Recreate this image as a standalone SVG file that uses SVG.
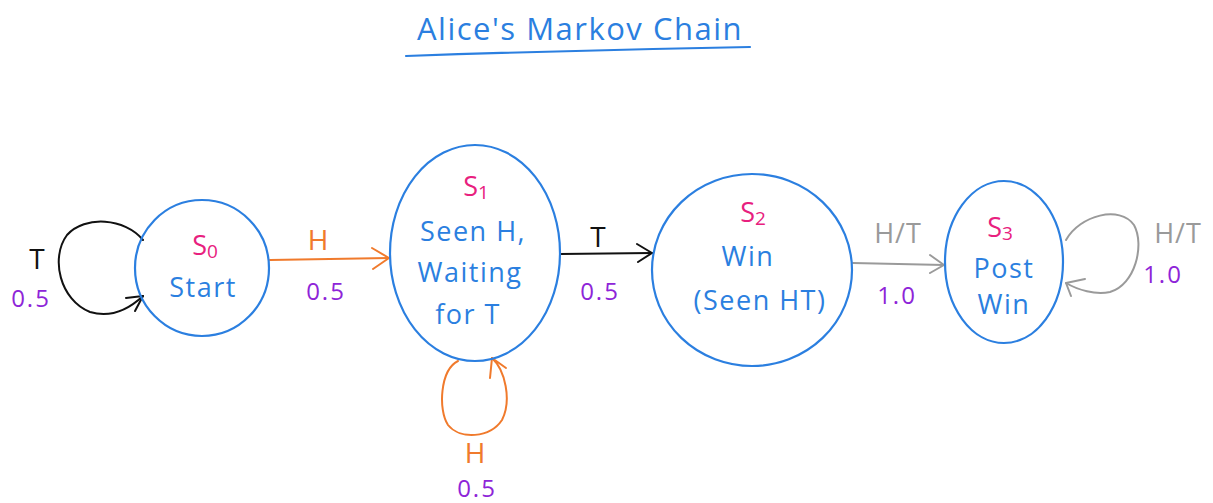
<svg xmlns="http://www.w3.org/2000/svg" width="1213" height="503" viewBox="0 0 1213 503">
  <style>
    text { font-family: "Open Sans", "Liberation Sans", sans-serif; text-anchor: middle; }
    .node { fill: none; stroke: #2b7fe0; stroke-width: 2.2; }
    .name { fill: #2b7fe0; font-size: 27px; letter-spacing: 1.5px; }
    .sid { fill: #e8207e; font-size: 27px; }
    .prob { fill: #8e24d8; font-size: 24px; letter-spacing: 2px; }
    .edge { fill: none; stroke-width: 2; stroke-linecap: round; stroke-linejoin: round; }
    .black { stroke: #111; }
    .orange { stroke: #f07a2c; }
    .gray { stroke: #9a9a9a; }
    .lblack { fill: #111; font-size: 28px; }
    .lorange { fill: #f07a2c; font-size: 28px; }
    .lgray { fill: #9a9a9a; font-size: 27px; letter-spacing: 1px; }
  </style>

  <rect width="1213" height="503" fill="#ffffff"/>

  <!-- title -->
  <g id="title">
    <text x="580" y="40" fill="#2b7fe0" font-size="31" letter-spacing="1.5">Alice's  Markov  Chain</text>
    <path d="M406 56 Q580 50 750 47" fill="none" stroke="#2b7fe0" stroke-width="2.2" stroke-linecap="round"/>
  </g>

  <!-- transitions -->
  <g id="connectors">
    <!-- S0 self loop (T) -->
    <path class="edge black" d="M143 240 C125 218 85 215 67 235 C50 258 60 300 90 312 C110 318 128 310 143 296"/>
    <path class="edge black" d="M126 298 L143 296 L135 311"/>
    <!-- S0 -> S1 (H) -->
    <path class="edge orange" d="M270 260 L389 258"/>
    <path class="edge orange" d="M372 248 L389 258 L373 269"/>
    <!-- S1 self loop (H) -->
    <path class="edge orange" d="M458 361 C440 370 438 410 448 425 C460 440 490 438 502 420 C512 400 505 370 492 358"/>
    <path class="edge orange" d="M490 378 L492 358 L506 368"/>
    <!-- S1 -> S2 (T) -->
    <path class="edge black" d="M560 254 L652 253"/>
    <path class="edge black" d="M637 244 L652 253 L638 262"/>
    <!-- S2 -> S3 (H/T) -->
    <path class="edge gray" d="M853 263 L944 265"/>
    <path class="edge gray" d="M930 255 L944 265 L930 273"/>
    <!-- S3 self loop (H/T) -->
    <path class="edge gray" d="M1066 240 C1080 215 1120 205 1134 225 C1145 245 1135 285 1110 292 C1095 295 1078 290 1066 283"/>
    <path class="edge gray" d="M1085 279 L1066 283 L1071 296"/>
  </g>

  <!-- edge labels -->
  <g id="edge-labels">
    <text class="lblack" x="37" y="269">T</text>
    <text class="prob" x="31" y="307">0.5</text>
    <text class="lorange" x="475" y="463" font-size="26">H</text>
    <text class="prob" x="477" y="497" font-size="21">0.5</text>
    <text class="lorange" x="318" y="250">H</text>
    <text class="prob" x="326" y="300">0.5</text>
    <text class="lblack" x="598" y="247">T</text>
    <text class="prob" x="600" y="300">0.5</text>
    <text class="lgray" x="898" y="243">H/T</text>
    <text class="prob" x="897" y="304">1.0</text>
    <text class="lgray" x="1178" y="243">H/T</text>
    <text class="prob" x="1163" y="283">1.0</text>
  </g>

  <!-- S0 -->
  <g id="s0">
    <ellipse class="node" cx="202" cy="268" rx="67" ry="68"/>
    <text class="sid" x="205" y="255">S<tspan font-size="19" dy="3">0</tspan></text>
    <text class="name" x="203" y="297">Start</text>
  </g>

  <!-- S1 -->
  <g id="s1">
    <ellipse class="node" cx="475" cy="253" rx="85" ry="108"/>
    <text class="sid" x="476" y="196">S<tspan font-size="19" dy="3">1</tspan></text>
    <text class="name" x="473" y="241">Seen  H,</text>
    <text class="name" x="470" y="282">Waiting</text>
    <text class="name" x="468" y="324">for  T</text>
  </g>

  <!-- S2 -->
  <g id="s2">
    <ellipse class="node" cx="752" cy="270" rx="100" ry="96"/>
    <text class="sid" x="753" y="222">S<tspan font-size="19" dy="3">2</tspan></text>
    <text class="name" x="748" y="266">Win</text>
    <text class="name" x="760" y="310">(Seen HT)</text>
  </g>

  <!-- S3 -->
  <g id="s3">
    <ellipse class="node" cx="1004" cy="262" rx="59" ry="81"/>
    <text class="sid" x="1000" y="237">S<tspan font-size="19" dy="3">3</tspan></text>
    <text class="name" x="1004" y="278">Post</text>
    <text class="name" x="1004" y="314">Win</text>
  </g>
</svg>
